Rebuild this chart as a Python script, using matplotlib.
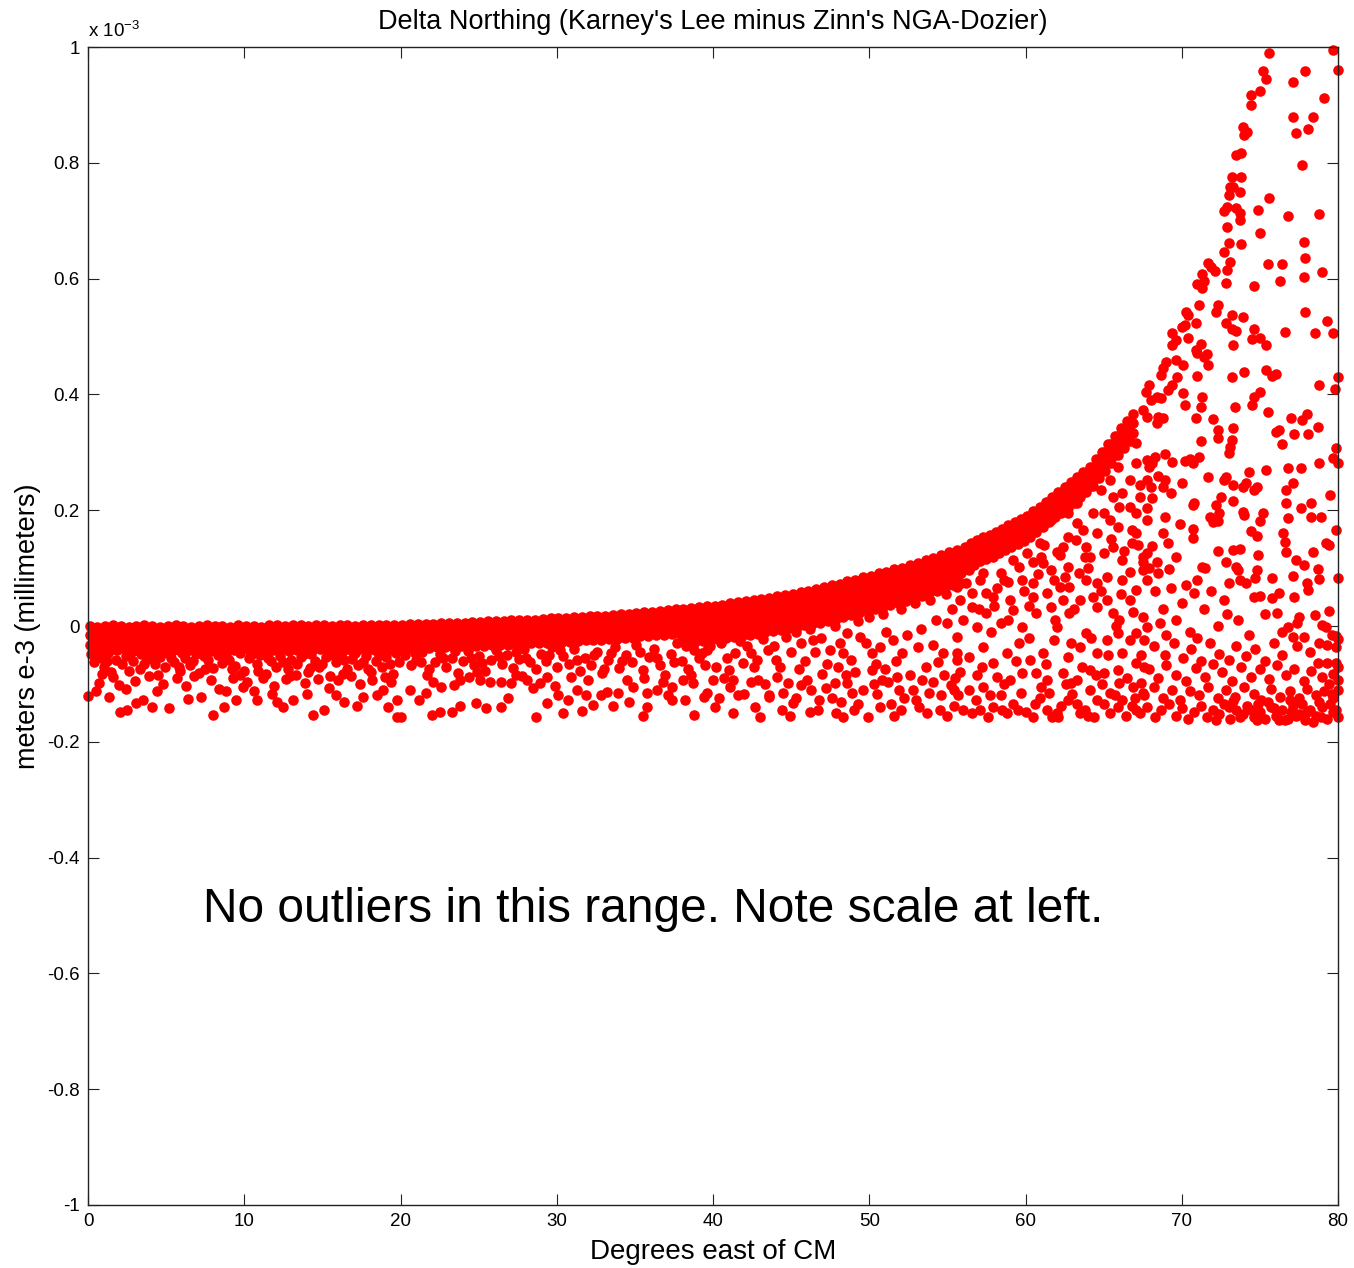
import numpy as np
import matplotlib
matplotlib.use('Agg')
import matplotlib.pyplot as plt

plt.rcParams['font.family'] = ['Liberation Sans', 'DejaVu Sans']
plt.rcParams['mathtext.fontset'] = 'custom'
plt.rcParams['mathtext.rm'] = 'Liberation Sans'
plt.rcParams['mathtext.default'] = 'regular'

# values, y in units of 1e-3 m
x_ticks = [0, 10, 20, 30, 40, 50, 60, 70, 80]
y_ticks = [-1, -0.8, -0.6, -0.4, -0.2, 0, 0.2, 0.4, 0.6, 0.8, 1]
y_tick_labels = ['-1', '-0.8', '-0.6', '-0.4', '-0.2', '0', '0.2', '0.4', '0.6', '0.8', '1']

# dense upper band: (lon, dn, dn, ...) columns
band = [
    (0.1, 0.000, -0.016, -0.033), (0.6, -0.001, -0.018, -0.035), (1.1, 0.000, -0.015, -0.032), (1.6, 0.001, -0.017, -0.036),
    (2.1, 0.000, -0.019, -0.034), (2.6, -0.001, -0.016, -0.031), (3.1, 0.000, -0.018, -0.036), (3.6, 0.001, -0.015, -0.033),
    (4.1, 0.000, -0.017, -0.035), (4.6, -0.001, -0.019, -0.032), (5.1, 0.000, -0.016, -0.034), (5.6, 0.001, -0.018, -0.036),
    (6.1, 0.000, -0.015, -0.033), (6.6, -0.001, -0.017, -0.035), (7.1, 0.000, -0.019, -0.031), (7.6, 0.001, -0.016, -0.034),
    (8.1, 0.000, -0.018, -0.036), (8.6, 0.000, -0.015, -0.032), (9.1, -0.001, -0.017, -0.035), (9.6, 0.001, -0.019, -0.033),
    (10.1, 0.000, -0.016, -0.034), (10.6, 0.000, -0.018, -0.031), (11.1, -0.001, -0.015, -0.036), (11.6, 0.001, -0.017, -0.033),
    (12.1, 0.001, -0.019, -0.035), (12.6, 0.000, -0.016, -0.032), (13.1, 0.001, -0.018, -0.034), (13.6, 0.001, -0.015, -0.036),
    (14.1, 0.000, -0.017, -0.033), (14.6, 0.001, -0.019, -0.031), (15.1, 0.001, -0.016, -0.035), (15.6, 0.000, -0.018, -0.034),
    (16.1, 0.001, -0.015, -0.032), (16.6, 0.001, -0.017, -0.036), (17.1, 0.000, -0.019, -0.033), (17.6, 0.002, -0.016, -0.035),
    (18.1, 0.002, -0.018, -0.031), (18.6, 0.001, -0.015, -0.034), (19.1, 0.002, -0.017, -0.036), (19.6, 0.002, -0.019, -0.032),
    (20.1, 0.002, -0.015, -0.033), (20.6, 0.003, -0.016, -0.031), (21.1, 0.003, -0.014, -0.032), (21.6, 0.004, -0.015, -0.030),
    (22.1, 0.004, -0.013, -0.031), (22.6, 0.005, -0.014, -0.029), (23.1, 0.005, -0.012, -0.030), (23.6, 0.006, -0.013, -0.028),
    (24.1, 0.006, -0.011, -0.029), (24.6, 0.007, -0.012, -0.027), (25.1, 0.007, -0.010, -0.028), (25.6, 0.008, -0.011, -0.026),
    (26.1, 0.008, -0.009, -0.027), (26.6, 0.009, -0.008, -0.025), (27.1, 0.010, -0.007, -0.026), (27.6, 0.010, -0.008, -0.024),
    (28.1, 0.011, -0.006, -0.023), (28.6, 0.011, -0.007, -0.024), (29.1, 0.012, -0.005, -0.022), (29.6, 0.013, -0.004, -0.021),
    (30.1, 0.014, -0.003, -0.022), (30.6, 0.014, -0.004, -0.020), (31.1, 0.015, -0.002, -0.019), (31.6, 0.016, -0.001, -0.020),
    (32.1, 0.017, 0.000, -0.018), (32.6, 0.017, -0.001, -0.017), (33.1, 0.018, 0.001, -0.016), (33.6, 0.019, 0.002, -0.017),
    (34.1, 0.020, 0.003, -0.015), (34.6, 0.021, 0.004, -0.014), (35.1, 0.023, 0.005, -0.013), (35.6, 0.024, 0.006, -0.011),
    (36.1, 0.025, 0.008, -0.010), (36.6, 0.026, 0.009, -0.009), (37.1, 0.028, 0.011, -0.007), (37.6, 0.029, 0.012, -0.006),
    (38.1, 0.030, 0.014, -0.003, -0.020), (38.6, 0.031, 0.015, -0.002, -0.019), (39.1, 0.032, 0.016, -0.001, -0.018),
    (39.6, 0.034, 0.017, 0.001, -0.016), (40.1, 0.035, 0.019, 0.002, -0.015), (40.6, 0.037, 0.021, 0.004, -0.013),
    (41.1, 0.039, 0.023, 0.006, -0.011), (41.6, 0.041, 0.025, 0.008, -0.009), (42.1, 0.043, 0.027, 0.010, -0.007),
    (42.6, 0.045, 0.029, 0.012, -0.005), (43.1, 0.047, 0.031, 0.014, -0.003), (43.6, 0.049, 0.033, 0.016, -0.001),
    (44.1, 0.051, 0.035, 0.018, 0.001), (44.6, 0.054, 0.038, 0.021, 0.004), (45.1, 0.056, 0.040, 0.023, 0.006),
    (45.6, 0.059, 0.043, 0.026, 0.009), (46.1, 0.061, 0.045, 0.028, 0.011), (46.6, 0.064, 0.048, 0.031, 0.014),
    (47.1, 0.067, 0.051, 0.034, 0.017), (47.6, 0.070, 0.054, 0.037, 0.020), (48.1, 0.073, 0.057, 0.040, 0.023),
    (48.6, 0.077, 0.061, 0.044, 0.027), (49.1, 0.080, 0.064, 0.047, 0.030), (49.6, 0.084, 0.068, 0.051, 0.034),
    (50.1, 0.087, 0.071, 0.054, 0.037), (50.6, 0.091, 0.075, 0.058, 0.041), (51.1, 0.094, 0.078, 0.061, 0.044),
    (51.6, 0.098, 0.082, 0.065, 0.048), (52.1, 0.101, 0.085, 0.068, 0.051), (52.6, 0.105, 0.089, 0.072, 0.055),
    (53.1, 0.109, 0.093, 0.076, 0.059), (53.6, 0.114, 0.098, 0.081, 0.064), (54.1, 0.118, 0.102, 0.085, 0.068),
    (54.6, 0.123, 0.107, 0.090, 0.073), (55.1, 0.127, 0.111, 0.094, 0.077), (55.6, 0.132, 0.116, 0.099, 0.082),
    (56.1, 0.137, 0.121, 0.104), (56.5, 0.143, 0.127, 0.110), (56.9, 0.149, 0.133, 0.116), (57.3, 0.154, 0.138, 0.121),
    (57.7, 0.158, 0.142, 0.126), (58.1, 0.163, 0.147, 0.130), (58.5, 0.168, 0.152, 0.135), (58.9, 0.174, 0.158, 0.141),
    (59.3, 0.179, 0.163, 0.146), (59.7, 0.184, 0.168, 0.151), (60.1, 0.190, 0.174, 0.157), (60.5, 0.198, 0.182, 0.165),
    (60.9, 0.206, 0.190, 0.173), (61.3, 0.215, 0.199, 0.182), (61.7, 0.223, 0.207, 0.190), (62.1, 0.232, 0.216, 0.199),
    (62.5, 0.240, 0.224, 0.207), (62.9, 0.248, 0.232, 0.215), (63.3, 0.257, 0.241, 0.224), (63.7, 0.266, 0.250, 0.233),
    (64.1, 0.275, 0.259, 0.242), (64.5, 0.288, 0.272, 0.255), (64.9, 0.301, 0.285, 0.268), (65.3, 0.315, 0.299, 0.282),
    (65.7, 0.329, 0.313, 0.296), (66.1, 0.342, 0.326, 0.309), (66.5, 0.354, 0.338, 0.321), (66.9, 0.366, 0.350, 0.333),
]

# in-between columns of the same band
band_fill = [
    (0.35, -0.008, -0.025, -0.043), (0.85, -0.009, -0.026, -0.041), (1.35, -0.007, -0.024, -0.044), (1.85, -0.008, -0.027, -0.042),
    (2.35, -0.009, -0.025, -0.040), (2.85, -0.007, -0.026, -0.043), (3.35, -0.008, -0.024, -0.041), (3.85, -0.010, -0.027, -0.044),
    (4.35, -0.008, -0.025, -0.042), (4.85, -0.007, -0.026, -0.040), (5.35, -0.009, -0.024, -0.043), (5.85, -0.008, -0.027, -0.041),
    (6.35, -0.007, -0.025, -0.044), (6.85, -0.009, -0.026, -0.042), (7.35, -0.008, -0.024, -0.040), (7.85, -0.010, -0.027, -0.043),
    (8.35, -0.008, -0.025, -0.041), (8.85, -0.007, -0.026, -0.044), (9.35, -0.009, -0.024, -0.042), (9.85, -0.008, -0.027, -0.040),
    (10.35, -0.007, -0.025, -0.043), (10.85, -0.009, -0.026, -0.041), (11.35, -0.008, -0.024, -0.044), (11.85, -0.010, -0.027, -0.042),
    (12.35, -0.007, -0.025, -0.040), (12.85, -0.008, -0.026, -0.043), (13.35, -0.009, -0.024, -0.041), (13.85, -0.007, -0.027, -0.044),
    (14.35, -0.008, -0.025, -0.042), (14.85, -0.006, -0.026, -0.040), (15.35, -0.008, -0.024, -0.043), (15.85, -0.007, -0.027, -0.041),
    (16.35, -0.009, -0.025, -0.044), (16.85, -0.007, -0.026, -0.042), (17.35, -0.006, -0.024, -0.040), (17.85, -0.008, -0.027, -0.043),
    (18.35, -0.006, -0.025, -0.041), (18.85, -0.007, -0.026, -0.044), (19.35, -0.006, -0.024, -0.042), (19.85, -0.005, -0.027, -0.040),
    (20.35, -0.006, -0.023, -0.040), (20.85, -0.005, -0.022, -0.039), (21.35, -0.005, -0.021, -0.038), (21.85, -0.004, -0.021, -0.038),
    (22.35, -0.003, -0.020, -0.037), (22.85, -0.003, -0.020, -0.036), (23.35, -0.002, -0.019, -0.036), (23.85, -0.002, -0.019, -0.035),
    (24.35, -0.001, -0.018, -0.035), (24.85, -0.001, -0.018, -0.034), (25.35, 0.000, -0.017, -0.034), (25.85, 0.000, -0.017, -0.033),
    (26.35, 0.001, -0.016, -0.033), (26.85, 0.002, -0.015, -0.032), (27.35, 0.002, -0.015, -0.031), (27.85, 0.003, -0.014, -0.031),
    (28.35, 0.003, -0.014, -0.030), (28.85, 0.004, -0.013, -0.030), (29.35, 0.005, -0.012, -0.029), (29.85, 0.006, -0.011, -0.028),
    (30.35, 0.006, -0.011, -0.027), (30.85, 0.007, -0.010, -0.027), (31.35, 0.008, -0.009, -0.026), (31.85, 0.009, -0.008, -0.025),
    (32.35, 0.009, -0.008, -0.024), (32.85, 0.010, -0.007, -0.024), (33.35, 0.011, -0.006, -0.023), (33.85, 0.012, -0.005, -0.022),
    (34.35, 0.013, -0.004, -0.021), (34.85, 0.014, -0.003, -0.020), (35.35, 0.016, -0.001, -0.018), (35.85, 0.017, 0.000, -0.017),
    (36.35, 0.018, 0.001, -0.016), (36.85, 0.019, 0.002, -0.015), (37.35, 0.021, 0.004, -0.013), (37.85, 0.022, 0.005, -0.012),
    (38.35, 0.023, 0.006, -0.011, -0.028), (38.85, 0.024, 0.007, -0.010, -0.027), (39.35, 0.025, 0.008, -0.009, -0.026),
    (39.85, 0.027, 0.010, -0.007, -0.024), (40.35, 0.028, 0.011, -0.006, -0.023), (40.85, 0.030, 0.013, -0.004, -0.021),
    (41.35, 0.032, 0.015, -0.002, -0.019), (41.85, 0.034, 0.017, 0.000, -0.017), (42.35, 0.036, 0.019, 0.002, -0.015),
    (42.85, 0.038, 0.021, 0.004, -0.013), (43.35, 0.040, 0.023, 0.006, -0.011), (43.85, 0.042, 0.025, 0.008, -0.009),
    (44.35, 0.044, 0.027, 0.010, -0.007), (44.85, 0.047, 0.030, 0.013, -0.004), (45.35, 0.049, 0.032, 0.015, -0.002),
    (45.85, 0.052, 0.035, 0.018, 0.001), (46.35, 0.054, 0.037, 0.020, 0.003), (46.85, 0.057, 0.040, 0.023, 0.006),
    (47.35, 0.060, 0.043, 0.026, 0.009), (47.85, 0.063, 0.046, 0.029, 0.012), (48.35, 0.067, 0.050, 0.033, 0.016),
    (48.85, 0.070, 0.053, 0.036, 0.019), (49.35, 0.074, 0.057, 0.040, 0.023), (49.85, 0.077, 0.060, 0.043, 0.026),
    (50.35, 0.081, 0.064, 0.047, 0.030), (50.85, 0.084, 0.067, 0.050, 0.033), (51.35, 0.088, 0.071, 0.054, 0.037),
    (51.85, 0.091, 0.074, 0.057, 0.040), (52.35, 0.095, 0.078, 0.061, 0.044), (52.85, 0.099, 0.082, 0.065, 0.048),
    (53.35, 0.103, 0.086, 0.069, 0.052), (53.85, 0.108, 0.091, 0.074, 0.057), (54.35, 0.112, 0.095, 0.078, 0.061),
    (54.85, 0.117, 0.100, 0.083, 0.066), (55.35, 0.121, 0.104, 0.087, 0.070), (55.85, 0.126, 0.109, 0.092, 0.075),
    (56.3, 0.132, 0.116, 0.100), (56.7, 0.138, 0.122, 0.106), (57.1, 0.144, 0.128, 0.112), (57.5, 0.148, 0.132, 0.116),
    (57.9, 0.153, 0.137, 0.121), (58.3, 0.158, 0.142, 0.126), (58.7, 0.163, 0.147, 0.131), (59.1, 0.169, 0.153, 0.137),
    (59.5, 0.174, 0.158, 0.142), (59.9, 0.179, 0.163, 0.147), (60.3, 0.186, 0.170, 0.154), (60.7, 0.194, 0.178, 0.162),
    (61.1, 0.203, 0.187, 0.171), (61.5, 0.211, 0.195, 0.179), (61.9, 0.220, 0.204, 0.188), (62.3, 0.228, 0.212, 0.196),
    (62.7, 0.236, 0.220, 0.204), (63.1, 0.245, 0.229, 0.213), (63.5, 0.254, 0.238, 0.222), (63.9, 0.263, 0.247, 0.231),
    (64.3, 0.274, 0.258, 0.242), (64.7, 0.287, 0.271, 0.255), (65.1, 0.300, 0.284, 0.268), (65.5, 0.314, 0.298, 0.282),
    (65.9, 0.328, 0.312, 0.296), (66.3, 0.340, 0.324, 0.308), (66.7, 0.352, 0.336, 0.320),
]

# scattered points, (lon, dn) pairs
west = [
    (0.2, -0.048), (0.4, -0.062), (0.8, -0.055), (1.0, -0.071), (1.3, -0.046), (1.5, -0.079), (1.8, -0.058), (2.2, -0.066),
    (2.4, -0.051), (2.9, -0.060), (3.3, -0.074), (3.4, -0.049), (3.8, -0.057), (4.3, -0.066), (4.6, -0.053), (4.9, -0.071),
    (5.1, -0.047), (5.5, -0.062), (5.9, -0.078), (6.2, -0.055), (6.5, -0.068), (6.9, -0.049), (7.1, -0.081), (7.7, -0.059),
    (8.0, -0.072), (8.3, -0.050), (8.6, -0.064), (9.0, -0.058), (9.4, -0.069), (9.7, -0.047), (10.0, -0.077), (10.3, -0.056),
    (10.8, -0.065), (11.0, -0.050), (11.4, -0.083), (11.7, -0.061), (12.0, -0.070), (12.3, -0.052), (12.8, -0.075), (13.0, -0.058),
    (13.4, -0.066), (13.8, -0.049), (14.1, -0.080), (14.5, -0.060), (14.8, -0.071), (15.2, -0.054), (15.5, -0.086), (15.9, -0.063),
    (16.2, -0.048), (16.6, -0.074), (16.9, -0.057), (17.3, -0.068), (17.8, -0.051), (18.1, -0.079), (18.4, -0.060), (18.8, -0.070),
    (19.1, -0.053), (19.5, -0.083), (19.9, -0.062),
    (0.7, -0.098), (1.6, -0.088), (2.0, -0.102), (3.0, -0.095), (3.9, -0.087), (4.8, -0.100), (5.7, -0.090), (6.3, -0.104),
    (6.8, -0.086), (7.9, -0.094), (8.4, -0.108), (9.3, -0.090), (10.2, -0.097), (11.2, -0.089), (11.9, -0.103), (12.7, -0.092),
    (13.3, -0.085), (13.9, -0.099), (14.7, -0.091), (15.4, -0.107), (16.0, -0.094), (16.8, -0.087), (17.4, -0.101), (18.2, -0.093),
    (18.9, -0.110), (19.4, -0.096),
    (0.0, -0.121), (0.5, -0.112), (1.35, -0.122), (2.05, -0.149), (2.5, -0.145), (2.4, -0.109), (3.1, -0.133), (3.5, -0.128),
    (4.1, -0.140), (4.4, -0.112), (5.2, -0.142), (6.4, -0.126), (7.2, -0.122), (8.0, -0.154), (8.7, -0.140), (8.8, -0.112),
    (9.5, -0.128), (9.9, -0.105), (10.6, -0.113), (10.8, -0.128), (12.5, -0.140), (13.1, -0.128), (14.4, -0.154), (15.1, -0.145),
    (16.4, -0.131), (17.2, -0.138), (17.6, -0.123), (19.2, -0.140), (19.8, -0.128), (19.8, -0.157), (11.8, -0.118), (14.0, -0.117),
    (15.9, -0.120), (18.5, -0.119), (12.1, -0.132),
]

west_fill = [
    (0.6, -0.052), (1.2, -0.060), (2.7, -0.048), (3.6, -0.065), (4.1, -0.050), (5.3, -0.056), (6.0, -0.047), (6.7, -0.060),
    (7.4, -0.052), (8.8, -0.050), (9.2, -0.075), (10.5, -0.048), (11.5, -0.055), (12.5, -0.062), (13.6, -0.054), (14.3, -0.048),
    (15.0, -0.065), (15.7, -0.050), (16.4, -0.058), (17.1, -0.047), (17.6, -0.062), (18.6, -0.050), (19.3, -0.066), (19.7, -0.046),
    (20.9, -0.046), (21.3, -0.063), (22.7, -0.056), (23.5, -0.043), (24.5, -0.055), (25.2, -0.064), (26.3, -0.052), (27.4, -0.045),
    (28.0, -0.055), (29.5, -0.050), (30.2, -0.042), (31.3, -0.058), (32.4, -0.050), (33.5, -0.046), (34.2, -0.060), (35.3, -0.045),
    (36.4, -0.055), (37.5, -0.062), (38.3, -0.035), (39.3, -0.047),
    (0.9, -0.083), (2.6, -0.078), (4.5, -0.085), (5.8, -0.070), (7.5, -0.074), (9.7, -0.085), (10.9, -0.078), (12.9, -0.087),
    (14.2, -0.072), (16.3, -0.083), (17.9, -0.075), (19.0, -0.088), (21.7, -0.084), (24.9, -0.080), (27.8, -0.087), (30.9, -0.088),
    (33.0, -0.075), (35.6, -0.090), (38.6, -0.085),
]

middle = [
    (20.3, -0.050), (20.7, -0.067), (21.0, -0.058), (21.4, -0.045), (21.8, -0.075), (22.2, -0.062), (22.5, -0.048), (22.9, -0.070),
    (23.3, -0.055), (23.7, -0.081), (24.0, -0.061), (24.3, -0.044), (24.7, -0.068), (25.0, -0.052), (25.4, -0.077), (25.8, -0.058),
    (26.1, -0.042), (26.5, -0.066), (26.8, -0.050), (27.2, -0.073), (27.6, -0.057), (27.9, -0.040), (28.3, -0.063), (28.7, -0.075),
    (29.0, -0.048), (29.3, -0.061), (29.7, -0.037), (30.0, -0.070), (30.4, -0.052), (30.8, -0.065), (31.1, -0.040), (31.5, -0.078),
    (31.8, -0.055), (32.2, -0.068), (32.6, -0.045), (32.9, -0.082), (33.3, -0.059), (33.7, -0.036), (34.0, -0.072), (34.4, -0.050),
    (34.8, -0.063), (35.1, -0.033), (35.5, -0.076), (35.9, -0.054), (36.2, -0.040), (36.6, -0.067), (36.9, -0.085), (37.3, -0.048),
    (37.7, -0.030), (38.0, -0.061), (38.4, -0.074), (38.8, -0.042), (39.1, -0.055), (39.5, -0.068), (39.8, -0.035),
    (20.6, -0.110), (20.0, -0.157), (21.6, -0.116), (22.1, -0.097), (22.6, -0.105), (23.4, -0.102), (23.8, -0.093), (24.4, -0.088),
    (25.1, -0.093), (25.7, -0.097), (26.4, -0.097), (27.1, -0.098), (27.4, -0.085), (28.1, -0.093), (28.5, -0.107), (28.9, -0.098),
    (29.4, -0.088), (30.1, -0.119), (30.7, -0.128), (31.3, -0.110), (31.9, -0.119), (32.8, -0.119), (33.2, -0.114), (33.9, -0.116),
    (34.5, -0.093), (34.9, -0.105), (35.8, -0.116), (36.4, -0.110), (37.1, -0.119), (37.4, -0.105), (38.1, -0.093), (38.7, -0.098),
    (39.4, -0.122),
    (22.0, -0.154), (22.5, -0.149), (23.3, -0.149), (23.8, -0.138), (24.8, -0.133), (25.5, -0.142), (26.4, -0.140), (28.7, -0.157),
    (29.4, -0.133), (30.4, -0.150), (31.6, -0.147), (32.3, -0.137), (33.6, -0.138), (34.6, -0.131), (35.5, -0.155), (35.8, -0.140),
    (37.4, -0.128), (38.2, -0.128), (38.8, -0.154), (21.2, -0.128), (26.9, -0.125), (29.9, -0.103), (36.8, -0.097), (32.0, -0.094),
]

east = [
    (40.1, -0.140), (40.4, -0.124), (39.6, -0.116), (40.0, -0.093), (41.3, -0.093), (42.4, -0.097), (42.9, -0.093), (43.6, -0.119),
    (44.8, -0.098), (45.6, -0.102), (46.0, -0.093), (46.8, -0.128), (47.2, -0.107), (47.8, -0.098), (48.6, -0.098), (48.9, -0.116),
    (49.6, -0.110), (50.2, -0.076), (50.8, -0.093), (51.2, -0.097), (51.8, -0.088), (52.2, -0.124), (52.8, -0.110), (53.4, -0.093),
    (54.1, -0.097), (54.4, -0.062), (55.2, -0.102), (55.7, -0.119),
    (41.3, -0.151), (43.0, -0.157), (42.7, -0.140), (43.6, -0.122), (44.4, -0.145), (45.1, -0.133), (46.2, -0.148), (46.7, -0.145),
    (48.3, -0.157), (49.0, -0.145), (49.9, -0.157), (50.7, -0.140), (52.0, -0.145), (53.7, -0.151), (54.5, -0.145),
    (39.6, -0.041), (40.2, -0.071), (41.0, -0.076), (41.4, -0.047), (41.9, -0.064), (42.4, -0.047), (43.5, -0.041), (44.0, -0.059),
    (44.7, -0.019), (45.6, -0.029), (46.4, -0.024), (46.5, -0.045), (47.5, -0.041), (48.0, -0.071), (48.3, -0.047), (49.1, -0.079),
    (49.4, -0.019), (50.2, -0.047), (50.7, -0.036), (51.5, -0.024), (52.1, -0.047), (53.1, -0.036), (54.1, -0.033), (55.0, 0.005),
    (54.7, -0.047), (55.6, -0.059), (55.6, -0.019),
    (40.5, -0.030), (40.9, -0.055), (41.7, -0.026), (42.2, -0.035), (42.8, -0.058), (43.2, -0.022), (43.9, -0.034), (44.3, -0.070),
    (45.0, -0.045), (45.3, -0.010), (45.9, -0.060), (46.2, -0.005), (46.9, -0.020), (47.3, -0.065), (47.8, 0.000), (48.1, -0.030),
    (48.6, -0.012), (48.8, -0.058), (49.3, 0.008), (49.8, -0.030), (50.0, 0.015), (50.4, -0.065), (50.9, 0.020), (51.1, -0.010),
    (51.7, -0.060), (52.0, 0.030), (52.4, -0.015), (52.9, 0.040), (53.3, -0.005), (53.6, -0.070), (53.9, 0.045), (54.3, 0.010),
    (54.9, 0.055), (55.3, 0.030), (55.8, -0.080),
    (41.1, -0.106), (42.0, -0.118), (44.1, -0.088), (45.3, -0.124), (47.0, -0.083), (48.2, -0.131), (50.5, -0.118), (51.4, -0.135),
    (53.0, -0.128), (54.8, -0.085), (55.4, -0.138),
    (40.7, -0.090), (41.6, -0.120), (42.6, -0.070), (43.3, -0.100), (44.5, -0.115), (45.5, -0.075), (46.3, -0.110), (47.6, -0.125),
    (48.5, -0.085), (49.3, -0.135), (50.3, -0.100), (51.0, -0.075), (51.9, -0.110), (52.6, -0.085), (53.2, -0.140), (53.8, -0.115),
    (54.6, -0.120), (55.5, -0.090), (44.9, -0.155), (47.9, -0.150), (51.6, -0.155), (55.0, -0.155),
]

rise = [
    (56.4, 0.097), (57.3, 0.092), (58.4, 0.092), (59.6, 0.102), (60.5, 0.110), (61.1, 0.109), (62.2, 0.123), (63.2, 0.149),
    (64.6, 0.161), (65.6, 0.136), (66.2, 0.114), (66.8, 0.143), (67.1, 0.161), (67.5, 0.110), (67.8, 0.126), (65.4, 0.183),
    (65.9, 0.171), (66.8, 0.166), (67.8, 0.183), (63.3, 0.178), (62.7, 0.154), (62.0, 0.128), (60.9, 0.143), (61.2, 0.140),
    (57.1, 0.079), (55.6, 0.067), (56.6, 0.057), (57.5, 0.057), (58.6, 0.079), (58.9, 0.076), (59.8, 0.079), (60.5, 0.074),
    (61.8, 0.079), (62.2, 0.067), (63.4, 0.092), (63.9, 0.079), (64.6, 0.074), (65.2, 0.085), (66.2, 0.079), (66.7, 0.093),
    (67.5, 0.097), (67.8, 0.079), (64.6, 0.033), (64.3, 0.050), (65.2, 0.045), (65.6, 0.022), (66.0, 0.010), (66.7, 0.045),
    (67.1, 0.062), (67.5, 0.016), (67.8, -0.002), (67.1, -0.012), (66.7, -0.024), (67.6, -0.024), (66.2, -0.047), (67.1, -0.064),
    (67.6, -0.071), (66.9, -0.105), (67.5, -0.116), (66.2, -0.128), (67.1, -0.145), (65.4, -0.151), (65.9, -0.140), (64.6, -0.128),
    (64.1, -0.110), (63.5, -0.151), (62.7, -0.128), (62.0, -0.151), (61.4, -0.145), (60.5, -0.157), (59.5, -0.145), (58.8, -0.151),
    (57.9, -0.140), (57.1, -0.145), (56.0, -0.145), (56.6, -0.150), (55.4, -0.110), (56.4, -0.110), (57.3, -0.105), (58.2, -0.088),
    (59.0, -0.093), (59.8, -0.081), (60.7, -0.081), (61.4, -0.093), (62.4, -0.081), (63.3, -0.093), (64.1, -0.076), (65.0, -0.081),
    (65.9, -0.076), (55.6, -0.047), (56.4, -0.054), (57.3, -0.036), (57.9, -0.064), (58.8, -0.047), (59.6, -0.029), (60.3, -0.059),
    (61.1, -0.047), (61.8, -0.024), (62.7, -0.054), (63.5, -0.036), (63.9, -0.012), (64.6, -0.047), (65.2, -0.024), (65.9, -0.012),
    (56.0, 0.010), (56.9, -0.002), (57.5, 0.022), (58.4, 0.005), (59.2, 0.028), (59.8, -0.002), (60.7, 0.022), (61.6, 0.033),
    (62.0, -0.002), (62.8, 0.022), (63.5, 0.045), (55.8, 0.045), (56.6, 0.033), (57.9, 0.050), (59.0, 0.045), (60.5, 0.050),
    (61.4, 0.057), (62.4, 0.045), (62.8, 0.067), (60.1, 0.126), (59.2, 0.114), (57.9, 0.119), (61.6, 0.097), (62.7, 0.102),
    (64.1, 0.119), (65.0, 0.126), (63.9, 0.136), (62.4, 0.136), (63.7, 0.166), (64.3, 0.195), (65.0, 0.195), (66.0, 0.206),
    (66.7, 0.206), (67.1, 0.195), (65.6, 0.223), (66.2, 0.230), (67.3, 0.223), (66.7, 0.252), (67.8, 0.252), (67.1, 0.281),
    (67.8, 0.287), (65.4, 0.252), (65.9, 0.275), (66.2, 0.309), (67.1, 0.316), (64.8, 0.235), (63.3, 0.212), (62.7, 0.195),
    (61.6, 0.183), (60.5, 0.166), (59.0, 0.154), (57.6, 0.143),
    (56.8, -0.128), (57.6, -0.158), (58.4, -0.120), (59.2, -0.135), (60.0, -0.148), (60.9, -0.125), (61.7, -0.158), (62.3, -0.138),
    (63.0, -0.118), (63.8, -0.145), (64.4, -0.158), (65.0, -0.135), (65.7, -0.120), (66.4, -0.155), (66.8, -0.138), (67.4, -0.098),
    (61.0, -0.105), (62.9, -0.098), (64.9, -0.100), (58.6, -0.100),
    (56.2, 0.075), (57.0, 0.030), (57.8, -0.010), (58.2, 0.065), (58.9, 0.010), (59.4, -0.060), (59.9, 0.060), (60.2, -0.020),
    (60.8, 0.090), (61.3, -0.065), (61.9, 0.010), (62.5, 0.085), (62.6, -0.100), (63.1, 0.030), (63.6, -0.070), (64.0, 0.100),
    (64.2, -0.020), (64.8, 0.060), (65.3, -0.050), (65.5, 0.150), (65.8, 0.000), (66.3, 0.130), (66.5, -0.090), (66.9, 0.025),
    (67.2, 0.140), (67.4, -0.050), (56.9, -0.085), (57.7, -0.120), (58.5, -0.145), (59.7, -0.115), (60.6, -0.135), (61.5, -0.115),
    (62.1, -0.158), (63.3, -0.135), (64.0, -0.155), (65.4, -0.115), (66.0, -0.098), (67.0, -0.125), (60.2, 0.035), (62.9, -0.030),
    (58.0, 0.035), (61.0, 0.120), (63.8, 0.120), (66.1, 0.055), (64.5, -0.085), (57.2, -0.070),
]

tail = [
    (75.6, 0.990), (79.7, 0.995), (80.0, 0.960), (75.2, 0.958), (75.4, 0.945), (77.9, 0.958), (77.1, 0.940), (75.0, 0.924),
    (74.4, 0.917), (74.4, 0.900), (79.1, 0.912), (77.1, 0.879), (78.4, 0.879), (78.1, 0.858), (77.3, 0.851), (73.9, 0.862),
    (74.2, 0.853), (74.0, 0.848), (73.5, 0.813), (73.8, 0.817), (77.7, 0.796), (73.2, 0.775), (73.8, 0.775), (73.1, 0.758),
    (73.3, 0.758), (73.7, 0.750), (73.0, 0.744), (75.6, 0.739), (72.7, 0.717), (72.9, 0.724), (73.5, 0.722), (73.7, 0.713),
    (73.7, 0.701), (74.9, 0.718), (76.8, 0.708), (78.8, 0.712), (72.9, 0.689), (75.0, 0.679), (73.0, 0.661), (73.8, 0.660),
    (77.8, 0.663), (72.7, 0.646), (77.9, 0.636), (71.7, 0.627), (71.9, 0.620), (72.1, 0.613), (73.1, 0.629), (72.9, 0.615),
    (75.5, 0.625), (76.4, 0.625), (79.0, 0.611), (71.3, 0.608), (71.4, 0.596), (71.0, 0.590), (71.3, 0.584), (72.8, 0.592),
    (74.6, 0.587), (76.3, 0.596), (77.8, 0.603),
    (71.1, 0.554), (72.3, 0.554), (72.2, 0.543), (70.3, 0.543), (70.4, 0.537), (70.9, 0.523), (70.0, 0.516), (70.2, 0.520),
    (73.2, 0.537), (73.9, 0.534), (72.8, 0.523), (73.2, 0.513), (73.5, 0.510), (74.6, 0.513), (77.9, 0.543), (79.3, 0.527),
    (76.6, 0.508), (78.5, 0.506), (79.7, 0.506), (74.5, 0.496), (75.0, 0.497), (75.4, 0.485), (73.3, 0.485), (69.4, 0.506),
    (69.6, 0.494), (70.4, 0.497), (69.4, 0.485), (71.2, 0.487), (70.9, 0.477), (71.0, 0.472), (71.6, 0.470), (71.4, 0.465),
    (69.0, 0.456), (69.6, 0.460), (70.1, 0.451), (71.7, 0.451), (68.8, 0.446), (68.7, 0.434), (69.7, 0.430), (69.4, 0.416),
    (69.1, 0.408), (67.9, 0.416), (67.7, 0.404), (68.0, 0.390), (68.4, 0.396), (68.7, 0.394), (67.5, 0.373), (67.8, 0.361),
    (68.5, 0.361), (68.8, 0.359), (68.4, 0.351), (70.1, 0.402), (70.2, 0.382), (71.3, 0.396), (71.2, 0.378), (70.9, 0.359),
    (71.0, 0.432), (73.2, 0.430), (74.0, 0.439), (75.4, 0.442), (75.8, 0.432), (76.0, 0.436), (75.0, 0.404), (74.6, 0.396),
    (74.5, 0.382), (73.4, 0.378), (72.0, 0.358), (72.3, 0.339), (75.5, 0.370), (77.0, 0.359), (78.0, 0.366), (78.7, 0.344),
    (76.0, 0.335), (76.2, 0.338), (77.2, 0.332), (78.1, 0.332), (76.4, 0.314), (73.3, 0.342), (73.2, 0.321), (73.1, 0.309),
    (73.0, 0.299), (72.3, 0.325), (71.2, 0.320), (71.1, 0.292), (70.7, 0.282), (70.5, 0.288), (70.2, 0.285), (69.4, 0.283),
    (68.9, 0.297), (68.3, 0.292), (68.1, 0.282), (67.9, 0.275), (68.5, 0.259), (68.9, 0.252), (68.8, 0.240), (69.3, 0.230),
    (70.0, 0.247), (67.3, 0.243), (68.0, 0.240), (68.1, 0.221), (67.8, 0.204), (68.9, 0.188), (68.8, 0.161), (69.1, 0.143),
    (68.1, 0.138), (69.6, 0.119), (68.4, 0.110), (68.5, 0.092), (67.9, 0.100), (69.2, 0.098), (67.5, 0.119), (70.7, 0.209),
    (70.8, 0.213), (69.9, 0.176), (70.7, 0.168), (70.7, 0.152), (71.3, 0.102), (71.5, 0.101), (71.0, 0.079), (70.3, 0.071),
    (70.8, 0.057), (71.7, 0.257), (72.8, 0.257), (72.7, 0.252), (72.5, 0.223), (72.2, 0.209), (72.4, 0.195), (71.8, 0.188),
    (72.0, 0.180), (72.3, 0.182), (73.3, 0.216), (73.9, 0.240), (74.1, 0.247), (74.6, 0.235), (74.8, 0.240), (74.3, 0.266),
    (75.4, 0.269), (73.3, 0.243), (73.9, 0.197), (74.0, 0.192), (75.0, 0.181), (75.2, 0.195), (74.4, 0.164), (74.8, 0.155),
    (73.3, 0.131), (73.7, 0.133), (72.3, 0.130), (72.8, 0.110), (73.5, 0.102), (73.6, 0.097), (73.0, 0.074), (73.7, 0.079),
    (74.1, 0.074), (74.8, 0.097), (74.9, 0.123), (74.7, 0.083), (74.6, 0.050), (75.0, 0.052), (75.8, 0.083), (75.8, 0.048),
    (76.8, 0.273), (77.1, 0.247), (76.7, 0.235), (77.6, 0.273), (76.7, 0.212), (76.8, 0.187), (77.6, 0.204), (78.3, 0.212),
    (78.9, 0.188), (78.3, 0.188), (76.5, 0.161), (76.6, 0.145), (76.7, 0.128), (77.3, 0.114), (77.8, 0.105), (78.8, 0.282),
    (79.7, 0.290), (80.0, 0.282), (79.9, 0.307), (79.5, 0.226), (79.9, 0.166), (79.2, 0.143), (79.4, 0.140), (78.4, 0.128),
    (78.7, 0.098), (78.8, 0.081), (80.0, 0.083), (77.1, 0.086), (78.0, 0.074), (78.1, 0.062), (77.2, 0.050), (76.2, 0.057),
    (76.1, 0.022), (76.8, -0.002), (77.1, -0.019), (77.5, 0.016), (77.4, 0.005), (77.8, -0.019), (77.4, -0.035), (78.5, 0.019),
    (79.4, 0.026), (79.0, 0.002), (79.2, -0.002), (79.6, -0.016), (79.9, -0.018), (80.0, -0.022), (79.9, -0.036), (79.3, -0.033),
    (78.7, -0.064), (79.3, -0.064), (79.9, -0.064), (79.0, -0.088), (79.7, -0.083), (80.0, -0.093), (80.0, 0.430), (79.8, 0.410),
    (78.8, 0.416), (77.7, 0.356),
    (68.3, 0.060), (68.8, 0.030), (69.3, 0.065), (69.6, 0.010), (70.0, 0.040), (70.5, -0.010), (71.4, 0.030), (71.9, 0.060),
    (72.3, 0.000), (72.7, 0.045), (69.0, -0.015), (71.0, -0.020), (72.9, 0.020), (73.6, 0.010), (74.3, -0.015), (75.3, 0.020),
    (76.4, -0.010), (68.6, 0.005),
    (68.2, -0.035), (68.9, -0.050), (69.5, -0.030), (70.1, -0.055), (70.6, -0.040), (71.2, -0.060), (71.8, -0.030), (72.4, -0.048),
    (73.0, -0.058), (73.5, -0.035), (74.1, -0.052), (74.7, -0.040), (75.3, -0.060), (75.9, -0.030), (76.4, -0.050), (78.2, -0.045),
    (78.8, -0.030),
    (67.9, -0.075), (68.5, -0.090), (69.0, -0.068), (69.6, -0.085), (70.3, -0.095), (70.9, -0.072), (71.5, -0.088), (72.0, -0.065),
    (72.6, -0.080), (73.2, -0.095), (73.8, -0.070), (74.4, -0.088), (75.0, -0.075), (75.6, -0.092), (76.1, -0.068), (76.7, -0.085),
    (77.2, -0.075), (77.8, -0.095), (78.3, -0.078), (79.4, -0.100), (80.0, -0.070),
    (67.6, -0.120), (68.2, -0.105), (68.8, -0.125), (69.4, -0.110), (69.9, -0.128), (70.5, -0.112), (71.1, -0.120), (71.7, -0.105),
    (72.3, -0.125), (72.8, -0.110), (73.4, -0.122), (74.0, -0.105), (74.6, -0.118), (75.1, -0.128), (75.7, -0.108), (76.3, -0.122),
    (76.9, -0.112), (77.5, -0.125), (78.0, -0.108), (78.6, -0.120), (79.1, -0.112), (79.7, -0.125), (80.0, -0.110),
    (67.3, -0.150), (67.8, -0.140), (68.3, -0.158), (68.7, -0.145), (69.2, -0.135), (69.6, -0.155), (70.0, -0.142), (70.4, -0.160),
    (70.8, -0.148), (71.2, -0.138), (71.6, -0.157), (72.0, -0.145), (72.4, -0.152), (72.7, -0.135), (73.1, -0.160), (73.5, -0.145),
    (73.9, -0.152), (74.2, -0.138), (74.6, -0.158), (75.0, -0.148), (75.3, -0.160), (75.7, -0.140), (76.0, -0.155), (76.4, -0.145),
    (76.8, -0.160), (77.1, -0.138), (77.5, -0.152), (77.9, -0.162), (78.2, -0.145), (78.6, -0.155), (79.0, -0.140), (79.3, -0.160),
    (79.7, -0.148), (80.0, -0.158), (73.3, -0.130), (75.5, -0.132), (77.7, -0.135), (79.5, -0.135), (74.8, -0.163), (76.6, -0.163),
    (78.4, -0.165), (72.2, -0.162), (73.7, -0.158), (74.4, -0.145), (75.9, -0.142), (76.2, -0.162), (77.3, -0.155), (78.0, -0.148),
    (78.9, -0.158), (79.9, -0.145), (73.0, -0.140), (74.9, -0.135), (76.9, -0.128), (78.8, -0.132), (79.6, -0.118), (77.0, -0.148),
]

all_band = band + band_fill
band_lon = [row[0] for row in all_band for _ in row[1:]]
band_dn = [v for row in all_band for v in row[1:]]
pts = np.array(west + west_fill + middle + east + rise + tail)

fig = plt.figure(figsize=(13.54, 12.68), dpi=100)
ax = fig.add_axes([0.065, 0.0497, 0.9232, 0.9132])

ax.plot(band_lon, band_dn, 'o', ms=7.6, mfc='red', mec='red', mew=0, clip_on=False)
ax.plot(pts[:, 0], pts[:, 1], 'o', ms=7.6, mfc='red', mec='red', mew=0, clip_on=False)

ax.set_xlim(0, 80)
ax.set_ylim(-1, 1)
ax.set_xticks(x_ticks)
ax.set_yticks(y_ticks)
ax.set_yticklabels(y_tick_labels)
ax.tick_params(direction='in', length=8, width=0.8, top=True, right=True, labelsize=13.5, pad=6, colors='#222222',
               labelcolor='black')
for s in ax.spines.values():
    s.set_linewidth(1.0)
    s.set_color('#222222')

ax.set_title("Delta Northing (Karney's Lee minus Zinn's NGA-Dozier)", fontsize=19.5, pad=13)
ax.set_xlabel('Degrees east of CM', fontsize=20, labelpad=6)
ax.set_ylabel('meters e-3 (millimeters)', fontsize=19.5, labelpad=4)
ax.text(0.0, 1.0086, 'x 10$^{-3}$', transform=ax.transAxes, fontsize=13.5, ha='left', va='baseline')
ax.text(7.36, -0.511, 'No outliers in this range. Note scale at left.', fontsize=34.5, va='baseline')

fig.savefig('out.png', dpi=100)
